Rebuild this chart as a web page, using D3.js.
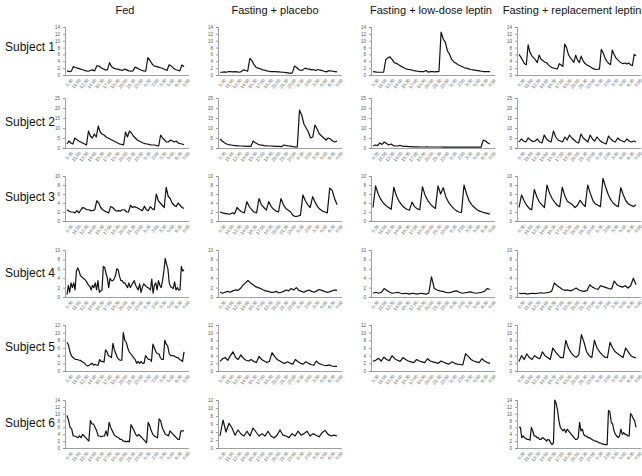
<!DOCTYPE html>
<html><head><meta charset="utf-8">
<script src="https://cdn.jsdelivr.net/npm/d3@7"></script>
<style>body{margin:0;background:#fff}svg{display:block}text{font-family:"Liberation Sans",Arial,sans-serif}</style>
</head><body><svg id="c" width="642" height="476"></svg>
<script>
const columns = ["Fed","Fasting + placebo","Fasting + low-dose leptin","Fasting + replacement leptin"];
const subjects = ["Subject 1","Subject 2","Subject 3","Subject 4","Subject 5","Subject 6"];
const yMax = [14,25,10,10,12,14];
const yStep = [2,5,2,2,2,2];
const yMaxPlacebo6 = 12;
const timeLabels = ["9:30","11:00","12:30","14:00","15:30","17:00","18:30","20:00","21:30","23:00","0:30","2:00","3:30","5:00","6:30","8:00"];

// row 1
const s1Fed = [1.2,1.0,1.1,2.5,2.2,2.0,1.8,1.6,1.4,1.2,1.1,1.3,1.5,1.2,2.7,2.6,2.1,1.8,1.5,1.5,3.6,2.4,2.0,1.8,1.7,1.5,1.3,1.7,1.5,1.2,1.1,1.2,2.3,2.0,1.7,1.4,1.2,1.1,5.1,4.2,3.2,2.6,2.5,2.3,2.1,1.9,1.6,1.3,3.0,2.6,2.0,1.6,1.4,1.2,2.9,2.4];
const s1Pla = [0.8,0.8,0.9,0.8,1.0,1.0,0.9,1.0,0.9,0.8,1.0,1.5,1.3,1.1,4.8,4.2,3.0,2.2,2.0,1.8,1.5,1.4,1.2,1.1,1.0,1.0,1.0,0.9,0.9,0.8,0.8,0.7,0.6,0.5,0.6,2.6,2.2,1.6,1.3,1.5,2.0,1.8,1.7,1.5,1.6,1.3,1.6,1.4,1.3,1.1,0.9,1.2,1.2,1.1,1.0,0.9];
const s1Low = [1.0,0.9,0.8,0.8,0.8,0.8,4.5,5.0,5.3,4.5,3.6,3.4,3.0,2.6,2.3,1.9,1.7,1.6,1.5,1.3,1.2,1.1,1.0,1.0,1.0,1.3,0.8,1.0,1.0,0.9,1.0,1.0,12.5,10.5,9.5,7.0,6.0,4.5,3.8,3.4,3.0,2.7,2.4,2.1,2.0,1.8,1.6,1.5,1.4,1.3,1.2,1.1,1.0,1.0,1.0,1.0];
const s1Rep = [6.0,5.2,4.3,3.3,3.0,8.8,6.6,5.6,5.0,4.4,3.6,5.8,4.6,4.2,3.8,3.6,3.0,2.5,2.2,2.0,1.9,1.8,3.3,2.9,2.5,9.0,8.0,6.0,5.1,4.4,3.7,5.8,4.4,3.6,5.5,4.2,3.4,3.0,2.7,2.4,2.0,1.8,1.6,1.6,1.8,7.5,6.5,5.0,4.0,3.4,3.0,7.3,6.0,5.0,4.4,3.9,3.5,3.3,3.5,3.2,3.5,3.0,2.7,6.0,5.6];
// row 2
const s2Fed = [2.0,3.5,2.5,2.0,5.0,4.2,3.5,3.0,2.5,2.0,1.5,8.5,6.0,5.0,7.0,5.5,11.0,8.0,7.0,6.5,5.5,5.0,4.5,4.0,3.5,3.0,2.5,2.0,1.8,1.5,8.0,5.5,8.5,7.5,6.0,5.0,4.0,3.5,3.0,2.5,2.2,2.0,1.8,1.6,1.5,1.5,1.2,1.0,6.5,5.0,4.0,3.0,3.0,4.0,3.5,3.0,3.5,2.5,2.2,2.0,1.6];
const s2Pla = [4.5,3.5,2.6,2.0,1.7,1.5,1.3,1.2,1.1,1.0,1.0,0.9,0.8,0.8,0.8,3.5,2.6,2.0,1.6,1.4,1.2,1.1,1.0,1.0,0.9,0.8,0.8,0.8,0.7,1.5,1.2,1.0,0.9,0.7,0.6,0.5,19.0,16.5,12.0,10.0,8.0,5.0,5.5,11.5,9.5,7.0,6.0,5.0,4.0,5.0,4.5,3.5,3.0,3.5];
const s2Low = [1.0,1.5,1.2,2.5,1.8,3.0,2.2,1.5,2.0,1.2,1.0,1.0,1.3,0.9,0.8,0.8,0.7,0.7,0.6,0.6,0.6,0.5,0.5,0.5,0.6,0.5,0.5,0.5,0.5,0.5,0.5,0.4,0.4,0.4,0.4,0.4,0.4,0.4,0.4,0.5,0.4,0.4,0.4,0.4,0.4,0.4,0.4,0.4,0.4,4.0,3.5,2.5,2.0];
const s2Rep = [3.0,4.5,3.5,3.0,5.0,4.0,3.2,3.5,4.5,3.0,2.5,6.5,4.5,3.5,3.0,8.5,5.5,4.0,3.5,3.0,5.5,4.0,6.5,5.0,4.0,3.0,2.5,7.0,5.0,4.0,3.0,6.5,4.5,3.5,5.5,4.0,3.0,2.5,2.0,6.0,4.5,3.5,3.0,5.0,4.0,3.5,3.0,4.5,3.5,3.0,3.5,3.0];
// row 3
const s3Fed = [2.5,2.2,2.0,2.0,1.8,2.3,1.8,2.5,3.0,2.8,2.5,2.5,2.3,2.3,2.5,4.5,4.0,3.0,2.5,2.2,2.0,1.8,3.2,3.0,2.5,2.2,2.3,2.2,2.5,2.5,2.0,2.0,3.5,3.0,3.2,3.0,2.8,2.5,2.3,3.3,2.5,2.3,3.2,2.7,2.5,6.0,4.5,4.0,3.5,3.0,7.5,5.5,5.0,4.0,3.5,3.2,4.0,3.5,3.0,2.8];
const s3Pla = [2.0,1.8,1.7,1.6,1.5,1.8,1.6,3.0,2.4,2.0,1.8,4.3,3.2,2.5,2.0,1.8,5.0,3.6,3.0,2.4,4.3,3.2,2.6,2.2,2.0,5.0,3.6,2.8,2.4,2.0,1.2,1.0,1.1,1.3,5.8,4.5,3.6,3.0,5.4,4.2,3.2,2.6,2.2,2.0,1.8,7.3,6.8,5.0,3.6];
const s3Low = [3.0,7.8,6.0,4.8,4.0,3.4,3.0,2.6,7.5,5.6,4.4,3.6,3.0,2.6,2.4,4.2,3.2,2.7,2.5,7.6,5.8,4.6,3.8,3.2,2.8,7.8,6.0,7.4,5.4,4.2,3.4,2.8,2.3,2.0,1.9,8.0,6.0,4.4,3.6,3.0,2.5,2.2,2.0,1.8,1.7,1.5];
const s3Rep = [3.0,5.8,4.5,3.5,2.8,2.5,7.0,5.4,4.2,3.6,3.0,8.0,6.2,5.0,4.2,3.5,3.2,7.5,5.6,4.4,4.0,3.6,3.0,3.5,4.6,3.8,3.2,8.0,6.2,4.6,3.8,3.5,3.2,9.5,7.6,6.0,4.8,4.0,3.5,3.2,7.4,5.8,4.5,3.8,3.5,3.2,3.6];
// row 4
const s4Fed = [0.5,2.5,1.0,3.0,2.0,3.0,1.5,5.5,6.2,5.5,4.5,4.3,4.0,3.8,3.5,3.0,2.5,2.3,1.5,2.5,2.0,3.0,1.5,3.5,1.0,1.3,1.5,6.5,6.3,5.0,4.0,2.0,4.0,3.5,3.5,3.8,4.5,6.0,5.8,4.5,3.5,3.5,3.0,3.0,2.5,2.0,3.0,2.0,2.5,3.0,3.5,2.5,2.0,1.5,2.8,1.0,2.0,2.8,2.5,2.2,2.0,1.8,1.5,3.8,0.8,2.5,3.0,1.5,3.5,2.5,2.0,3.5,5.5,8.2,7.0,6.0,3.0,2.2,2.0,1.8,3.2,1.5,2.0,1.5,1.5,6.5,5.5,5.8];
const s4Pla = [1.0,0.8,1.0,1.2,1.0,1.3,1.5,1.4,1.8,2.5,3.0,3.5,3.0,2.6,2.2,2.0,1.8,1.5,1.3,1.2,1.0,1.0,1.2,0.9,1.0,1.2,1.5,1.3,1.8,1.5,2.0,1.4,1.2,1.0,1.3,1.5,1.2,1.0,1.3,1.6,1.4,1.2,1.0,1.1,1.3,1.5,1.4];
const s4Low = [0.8,1.0,0.8,1.0,1.8,1.4,1.0,0.8,0.9,1.0,0.8,0.7,0.8,0.6,0.8,0.7,0.6,0.8,0.7,0.6,0.8,4.3,1.8,1.5,1.3,1.2,1.0,0.9,1.0,1.2,1.3,1.0,0.8,0.9,1.0,1.1,0.9,0.8,0.9,1.0,1.2,1.8,1.6];
const s4Rep = [0.8,0.7,0.8,0.6,0.7,0.8,0.7,0.8,0.9,0.8,0.9,1.0,1.2,3.0,2.4,2.0,1.6,1.4,1.5,1.3,1.6,1.9,1.5,1.3,1.2,1.4,2.6,2.1,1.8,1.6,2.4,2.2,2.0,1.8,1.7,3.4,2.6,2.3,2.1,2.4,1.9,2.4,4.0,2.6];
// row 5
const s5Fed = [7.5,6.8,5.0,4.0,3.5,3.2,3.0,3.0,2.8,2.8,2.5,2.2,2.0,1.5,1.3,1.5,1.8,2.0,1.5,1.8,1.5,1.5,3.0,2.5,2.5,2.3,5.5,5.0,4.0,3.8,3.5,7.2,5.5,4.5,3.5,3.0,2.8,2.8,10.0,8.0,7.5,6.0,5.0,4.5,4.0,3.5,3.0,2.0,2.5,2.0,2.5,2.0,2.0,4.0,3.5,3.0,3.0,2.5,7.0,6.0,5.0,4.5,4.5,3.5,3.0,3.0,8.0,7.0,6.5,4.5,4.0,4.0,4.0,3.8,3.5,3.5,3.0,2.8,2.5,5.0];
const s5Pla = [2.5,3.2,3.5,2.8,4.0,5.0,3.5,3.0,4.2,3.3,2.8,2.6,3.0,2.5,2.2,3.8,3.0,2.6,2.2,2.5,4.8,3.8,3.0,2.6,2.2,2.0,2.4,2.0,1.8,3.0,2.4,2.0,1.8,2.4,2.0,1.7,1.5,2.6,2.0,1.7,1.5,1.4,1.6,1.3,1.2,1.2];
const s5Low = [2.5,2.8,3.3,2.6,3.6,3.0,2.7,4.0,3.2,2.8,2.5,3.5,3.0,2.6,2.4,2.2,3.0,2.6,2.4,2.2,3.2,2.6,2.4,2.2,2.0,2.6,2.3,2.0,1.8,2.4,2.0,1.8,1.7,1.6,4.5,3.8,3.0,2.6,2.4,2.2,3.2,2.6,2.2,2.0];
const s5Rep = [2.5,4.0,3.0,4.5,3.5,3.0,4.0,3.5,3.2,5.0,4.0,3.5,3.0,6.0,5.0,4.2,3.5,3.5,8.0,6.0,4.8,4.0,3.6,4.2,9.5,7.5,5.0,4.0,3.5,8.0,6.0,5.0,4.2,3.6,3.5,7.5,6.0,5.0,4.5,4.0,3.5,6.0,5.0,4.0,3.6,3.4];
// row 6
const s6Fed = [9.5,8.0,6.0,5.5,3.5,3.5,3.3,3.0,3.5,3.0,4.0,3.5,3.0,2.5,2.0,8.0,7.0,7.0,6.0,5.0,3.5,3.5,3.3,3.5,3.5,5.0,3.5,7.5,6.0,5.0,4.0,3.5,3.2,3.0,2.5,2.5,2.0,2.0,1.8,2.0,1.8,6.8,6.0,5.0,4.0,3.5,4.0,3.5,3.0,2.5,2.0,1.5,7.5,6.5,5.0,4.0,3.5,3.2,3.0,8.5,8.0,6.0,5.0,4.0,3.8,3.5,5.0,4.5,4.0,3.5,3.0,2.5,2.5,5.0,5.0,5.0];
const s6Pla = [3.0,7.0,4.0,6.2,5.0,3.2,4.5,3.5,3.0,4.2,3.0,5.0,4.0,3.0,3.6,3.0,4.2,3.0,2.5,3.2,4.5,3.2,3.0,2.6,3.6,3.0,4.2,3.2,3.6,4.2,3.0,3.6,3.2,2.8,3.8,4.4,3.4,3.0,3.2,3.0];
const s6Rep = [6.0,6.0,3.0,3.5,3.0,2.8,2.5,2.5,2.3,6.0,5.0,3.5,3.5,3.0,3.0,2.5,2.5,3.0,2.8,2.5,2.0,2.5,2.3,1.5,1.0,1.5,14.0,13.0,11.0,8.0,6.0,5.5,5.0,5.5,4.5,5.5,5.0,4.5,4.0,3.5,3.0,2.5,2.5,3.0,7.5,5.0,5.5,4.0,3.5,3.5,3.0,3.0,2.8,2.5,2.3,2.0,2.0,1.8,1.5,1.5,1.2,1.2,1.0,1.0,1.0,11.0,10.5,7.5,7.0,5.0,4.0,3.5,3.0,3.5,5.5,4.0,4.5,4.0,4.0,3.5,3.5,10.0,9.5,8.5,8.0,6.0];

const grid = [
  [s1Fed,s1Pla,s1Low,s1Rep],
  [s2Fed,s2Pla,s2Low,s2Rep],
  [s3Fed,s3Pla,s3Low,s3Rep],
  [s4Fed,s4Pla,s4Low,s4Rep],
  [s5Fed,s5Pla,s5Low,s5Rep],
  [s6Fed,s6Pla,null,s6Rep]
];

const svg = d3.select("#c");
const colX = [65,218,371,517];
const colW = 124;
const colTitleX = [125,275,431,572];
const rowTop = [27,98,176,250,325,400];
const rowBot = [75,148,221,297,371,448];
const rowLabelY = [51,126,201,277,351,427];

columns.forEach((c,i)=>{
  svg.append("text").attr("x",colTitleX[i]).attr("y",14).attr("text-anchor","middle")
    .attr("font-size",11).attr("fill","#111").text(c);
});
subjects.forEach((s,r)=>{
  svg.append("text").attr("x",5).attr("y",rowLabelY[r]).attr("font-size",12).attr("fill","#111").text(s);
});

grid.forEach((row,r)=>{
  row.forEach((data,c)=>{
    if(!data) return;
    const x0 = colX[c];
    let ym = yMax[r];
    if(r===5 && c===1) ym = yMaxPlacebo6;
    const y = d3.scaleLinear().domain([0,ym]).range([rowBot[r],rowTop[r]]);
    const g = svg.append("g");
    const ya = d3.axisLeft(y).tickValues(d3.range(0,ym+0.001,yStep[r])).tickSize(2).tickPadding(3);
    const yg = g.append("g").attr("transform",`translate(${x0},0)`).call(ya);
    yg.selectAll("text").attr("font-size",4.5).attr("fill","#555");
    yg.selectAll("line,path").attr("stroke","#888").attr("stroke-width",0.8);
    const xb = d3.scalePoint().domain(timeLabels).range([x0+3,x0+colW-4]);
    const xa = d3.axisBottom(xb).tickSize(0).tickPadding(4);
    const xg = g.append("g").attr("transform",`translate(0,${rowBot[r]})`).call(xa);
    xg.select("path").attr("d",`M${x0},0.5H${x0+colW}`).attr("stroke","#888").attr("stroke-width",0.8);
    xg.selectAll("text").attr("font-size",4.5).attr("fill","#666")
      .attr("text-anchor","end").attr("transform","rotate(-50)").attr("dx","-1").attr("dy","3");
    const x = d3.scaleLinear().domain([0,data.length-1]).range([x0+2,x0+colW*0.96]);
    g.append("path").datum(data).attr("fill","none").attr("stroke","#111").attr("stroke-width",1.2)
      .attr("stroke-linejoin","round")
      .attr("d",d3.line().x((d,i)=>x(i)).y(d=>y(d)));
  });
});
</script></body></html>
